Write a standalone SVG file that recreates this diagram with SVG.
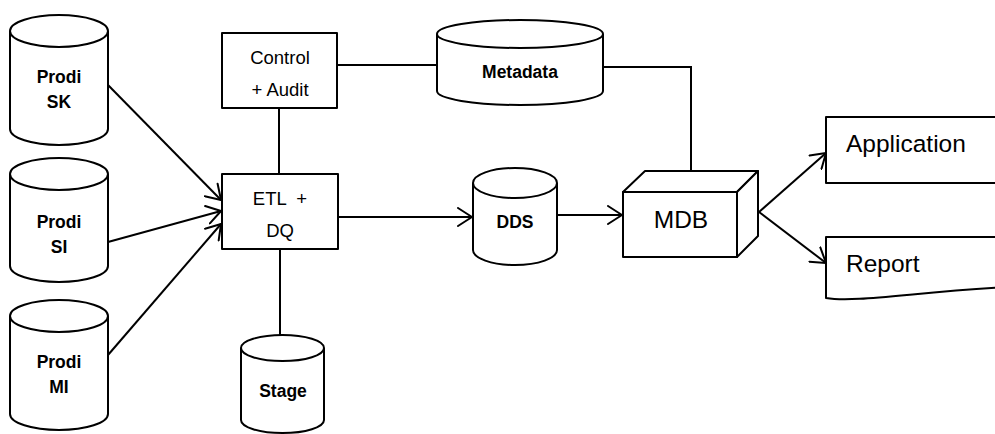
<svg xmlns="http://www.w3.org/2000/svg" width="995" height="434" viewBox="0 0 995 434">
  <defs>
    <style>
      .shape { fill: #ffffff; stroke: #000000; stroke-width: 2; stroke-linejoin: round; }
      .conn { fill: none; stroke: #000000; stroke-width: 2; }
      .bold { font-family: "Liberation Sans", Arial, sans-serif; font-weight: bold; font-size: 17.5px; fill: #000000; text-anchor: middle; }
      .reg { font-family: "Liberation Sans", Arial, sans-serif; font-size: 18.5px; fill: #000000; text-anchor: middle; }
      .big { font-family: "Liberation Sans", Arial, sans-serif; font-size: 24.5px; fill: #000000; }
    </style>
    <marker id="arrow" viewBox="0 0 16 20" refX="15" refY="10" markerWidth="16" markerHeight="20" markerUnits="userSpaceOnUse" orient="auto">
      <path d="M1,1 L15,10 L1,19" fill="none" stroke="#000000" stroke-width="2" stroke-linecap="round" stroke-linejoin="round"/>
    </marker>
  </defs>

  <rect width="995" height="434" fill="#ffffff"/>

  <!-- connectors -->
  <g id="connectors">
    <line class="conn" x1="337" y1="65" x2="437" y2="65"/>
    <polyline class="conn" points="603,67 691,67 691,173"/>
    <line class="conn" x1="279" y1="108" x2="279" y2="174"/>
    <line class="conn" x1="280" y1="249" x2="280" y2="335"/>
    <line class="conn" x1="338" y1="217" x2="472" y2="217" marker-end="url(#arrow)"/>
    <line class="conn" x1="557" y1="215" x2="622" y2="215" marker-end="url(#arrow)"/>
    <line class="conn" x1="108" y1="85" x2="221" y2="200" marker-end="url(#arrow)"/>
    <line class="conn" x1="108" y1="242" x2="221" y2="211" marker-end="url(#arrow)"/>
    <line class="conn" x1="108" y1="355" x2="221" y2="224" marker-end="url(#arrow)"/>
    <line class="conn" x1="759" y1="212" x2="826" y2="153" marker-end="url(#arrow)"/>
    <line class="conn" x1="759" y1="212" x2="826" y2="263" marker-end="url(#arrow)"/>
  </g>

  <!-- source databases -->
  <g id="prodi-sk">
    <path class="shape" d="M10,31 V129 A49,16 0 0 0 108,129 V31"/>
    <ellipse class="shape" cx="59" cy="31" rx="49" ry="16"/>
    <text class="bold" x="59" y="83">Prodi</text>
    <text class="bold" x="59" y="108">SK</text>
  </g>
  <g id="prodi-si">
    <path class="shape" d="M10,174 V266 A49,16 0 0 0 108,266 V174"/>
    <ellipse class="shape" cx="59" cy="174" rx="49" ry="16"/>
    <text class="bold" x="59" y="228">Prodi</text>
    <text class="bold" x="59" y="253">SI</text>
  </g>
  <g id="prodi-mi">
    <path class="shape" d="M10,316 V414 A49,16 0 0 0 108,414 V316"/>
    <ellipse class="shape" cx="59" cy="316" rx="49" ry="16"/>
    <text class="bold" x="59" y="368">Prodi</text>
    <text class="bold" x="59" y="393">MI</text>
  </g>

  <!-- process boxes -->
  <g id="control-audit">
    <rect class="shape" x="222" y="33" width="115" height="75"/>
    <text class="reg" x="280" y="64">Control</text>
    <text class="reg" x="280" y="96">+ Audit</text>
  </g>
  <g id="etl-dq">
    <rect class="shape" x="222" y="174" width="116" height="75"/>
    <text class="reg" x="280" y="205" xml:space="preserve">ETL  +</text>
    <text class="reg" x="280" y="237">DQ</text>
  </g>

  <!-- stores -->
  <g id="metadata">
    <path class="shape" d="M437,34 V91 A83,14 0 0 0 603,91 V34"/>
    <ellipse class="shape" cx="520" cy="34" rx="83" ry="14"/>
    <text class="bold" x="520" y="78">Metadata</text>
  </g>
  <g id="dds">
    <path class="shape" d="M473,183 V250 A42,15 0 0 0 557,250 V183"/>
    <ellipse class="shape" cx="515" cy="183" rx="42" ry="15"/>
    <text class="bold" x="515" y="228">DDS</text>
  </g>
  <g id="stage">
    <path class="shape" d="M241,348 V420 A41.5,13 0 0 0 324,420 V348"/>
    <ellipse class="shape" cx="282.5" cy="348" rx="41.5" ry="13"/>
    <text class="bold" x="283" y="397">Stage</text>
  </g>

  <!-- multidimensional database cube -->
  <g id="mdb">
    <rect class="shape" x="623" y="192" width="114" height="65"/>
    <polygon class="shape" points="623,192 645,171 758,171 737,192"/>
    <polygon class="shape" points="737,192 758,171 758,236 737,257"/>
    <text class="big" x="681" y="228" text-anchor="middle">MDB</text>
  </g>

  <!-- outputs -->
  <g id="application">
    <rect class="shape" x="826" y="117" width="190" height="66"/>
    <text class="big" x="846" y="152">Application</text>
  </g>
  <g id="report">
    <path class="shape" d="M1010,237 H826 V298 C855,303 915,292 1010,287"/>
    <text class="big" x="846" y="272">Report</text>
  </g>
</svg>
